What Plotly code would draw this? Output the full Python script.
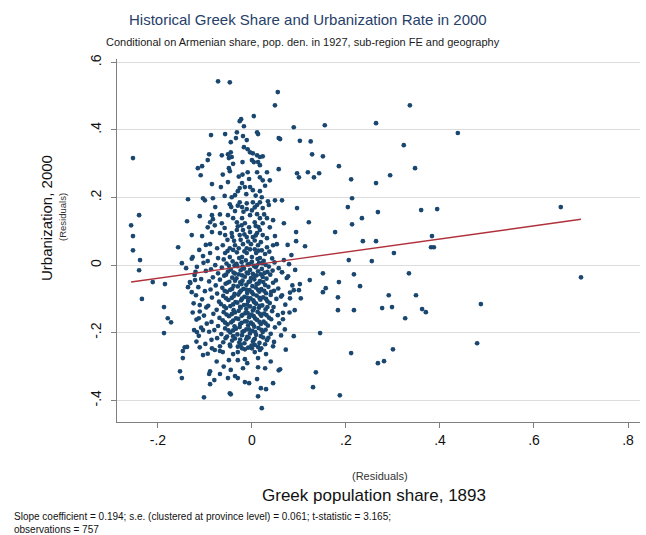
import plotly.graph_objects as go

# ---------------- data (residuals) ----------------
left_points = [
    (-0.253, 0.317), (-0.240, 0.148), (-0.257, 0.118), (-0.253, 0.086), (-0.253, 0.044),
    (-0.238, 0.015), (-0.240, -0.015), (-0.211, -0.050), (-0.185, -0.056), (-0.234, -0.100),
    (-0.187, -0.124), (-0.179, -0.157), (-0.187, -0.201), (-0.172, -0.169),
    (-0.149, 0.006), (-0.140, -0.009), (-0.136, -0.065), (-0.132, -0.050), (-0.121, -0.044),
    (-0.111, -0.118), (-0.113, -0.157), (-0.104, -0.192), (-0.117, -0.198), (-0.123, -0.192),
    (-0.143, -0.243), (-0.147, -0.254), (-0.147, -0.275), (-0.153, -0.314), (-0.149, -0.334),
    (-0.138, -0.242), (-0.157, 0.053), (-0.138, 0.130), (-0.136, 0.195),
    (-0.098, 0.060), (-0.112, 0.045), (-0.120, -0.020), (-0.128, -0.080), (-0.126, -0.140),
    (-0.118, -0.226), (-0.094, -0.262), (-0.075, -0.285), (-0.060, -0.300), (-0.080, -0.340),
]

upper_points = [
    (-0.072, 0.544), (-0.047, 0.541), (0.055, 0.512), (0.049, 0.473), (-0.023, 0.432),
    (-0.026, 0.426), (-0.017, 0.411), (0.004, 0.441),
    (-0.087, 0.385), (-0.057, 0.388), (-0.032, 0.393), (-0.034, 0.376), (-0.019, 0.382),
    (-0.011, 0.370), (-0.045, 0.364), (0.011, 0.393), (0.013, 0.388), (0.057, 0.376),
    (-0.017, 0.349), (-0.009, 0.343), (-0.004, 0.334), (0.002, 0.331), (0.011, 0.325),
    (0.017, 0.320), (0.023, 0.322), (0.000, 0.311), (0.004, 0.305), (0.013, 0.305), (0.017, 0.296),
    (-0.091, 0.328), (-0.094, 0.311), (-0.064, 0.325), (-0.051, 0.328), (-0.045, 0.334),
    (-0.043, 0.320), (-0.049, 0.317), (-0.106, 0.293), (-0.115, 0.287), (-0.049, 0.287), (0.057, 0.284),
    (-0.109, 0.266), (-0.047, 0.278), (-0.009, 0.275), (0.011, 0.275), (0.017, 0.260),
    (0.032, 0.275), (0.023, 0.251), (0.038, 0.251),
    (-0.085, 0.240), (-0.066, 0.231), (-0.051, 0.246), (-0.021, 0.243), (-0.026, 0.228),
    (-0.015, 0.231), (-0.030, 0.219), (-0.004, 0.231), (0.002, 0.222), (0.017, 0.219),
    (-0.036, 0.207), (-0.043, 0.201), (0.021, 0.201),
    (-0.104, 0.198), (-0.100, 0.192), (-0.083, 0.198), (-0.047, 0.180), (-0.026, 0.186),
    (-0.021, 0.172), (-0.011, 0.183), (-0.011, 0.166), (0.002, 0.186), (0.011, 0.178),
    (0.017, 0.186), (0.034, 0.189), (0.049, 0.192), (0.036, 0.178), (0.023, 0.169),
    (-0.111, 0.145), (-0.085, 0.148), (-0.083, 0.136), (-0.089, 0.127), (-0.079, 0.118),
    (-0.094, 0.112), (-0.064, 0.124), (-0.051, 0.148), (-0.040, 0.139), (-0.032, 0.127),
    (-0.021, 0.139), (-0.015, 0.124), (-0.004, 0.148), (0.011, 0.151), (0.017, 0.139),
    (0.006, 0.127), (0.023, 0.124), (0.032, 0.139), (0.045, 0.133), (0.038, 0.112),
    (-0.128, 0.089), (-0.106, 0.086), (-0.085, 0.098), (-0.068, 0.095), (-0.057, 0.089),
    (-0.043, 0.095), (-0.032, 0.104), (-0.026, 0.089), (-0.019, 0.104), (-0.011, 0.083),
    (-0.004, 0.098), (0.002, 0.083), (0.011, 0.095), (0.017, 0.104), (0.023, 0.089),
    (0.032, 0.080), (0.049, 0.086),
    (-0.089, 0.062), (-0.074, 0.050), (-0.062, 0.059), (-0.047, 0.050), (-0.036, 0.059),
    (-0.028, 0.050), (-0.019, 0.062), (-0.011, 0.050), (-0.002, 0.062), (0.006, 0.047),
    (0.013, 0.059), (0.021, 0.044), (0.032, 0.053), (0.045, 0.059), (0.053, 0.062),
    (-0.126, 0.024), (-0.104, 0.027), (-0.089, 0.036), (-0.072, 0.021), (-0.057, 0.036),
    (-0.047, 0.024), (-0.032, 0.038), (-0.021, 0.024), (-0.011, 0.036), (0.000, 0.024),
    (0.009, 0.036), (0.017, 0.021), (0.028, 0.033),
    (-0.038, 0.072), (-0.024, 0.075), (-0.008, 0.070), (0.006, 0.073), (0.019, 0.068),
    (-0.052, 0.075), (-0.030, 0.115), (-0.006, 0.112), (0.008, 0.116), (-0.018, 0.158),
    (0.000, 0.162), (-0.036, 0.160), (-0.028, 0.262), (-0.006, 0.255), (-0.040, 0.300), (-0.020, 0.305),
    (-0.042, 0.084), (-0.016, 0.091), (0.008, 0.088), (-0.058, 0.110), (-0.022, 0.118),
    (0.014, 0.113), (-0.044, 0.172), (-0.030, 0.176), (0.006, 0.171), (-0.058, 0.205),
    (-0.012, 0.210), (0.008, 0.206), (-0.020, 0.268), (0.028, 0.235), (-0.062, 0.268),
    (-0.078, 0.172), (-0.068, 0.150), (0.026, 0.150),
    (-0.052, 0.042), (-0.040, 0.045), (-0.016, 0.041), (-0.004, 0.047), (0.014, 0.043), (0.037, 0.040),
]

core_points = [
    (-0.128, 0.019), (-0.094, 0.012), (-0.060, 0.017), (-0.041, 0.011), (-0.027, 0.021), (-0.013, 0.014),
    (0.000, 0.010), (0.012, 0.018), (0.025, 0.013), (0.043, 0.020), (0.068, 0.015),
    (-0.103, 0.007), (-0.078, 0.000), (-0.054, 0.005), (-0.037, -0.001), (-0.022, 0.009), (-0.009, 0.002),
    (0.004, -0.002), (0.015, 0.006), (0.029, 0.001), (0.048, 0.008), (0.079, 0.003),
    (-0.117, -0.005), (-0.087, -0.012), (-0.064, -0.007), (-0.045, -0.013), (-0.031, -0.003), (-0.017, -0.010),
    (-0.004, -0.014), (0.008, -0.006), (0.021, -0.011), (0.036, -0.004), (0.057, -0.009),
    (-0.098, -0.017), (-0.072, -0.024), (-0.051, -0.019), (-0.036, -0.025), (-0.024, -0.015), (-0.011, -0.022),
    (0.002, -0.026), (0.013, -0.018), (0.027, -0.023), (0.044, -0.016), (0.064, -0.021), (0.092, -0.014),
    (-0.122, -0.029), (-0.083, -0.036), (-0.059, -0.031), (-0.042, -0.037), (-0.028, -0.027), (-0.015, -0.034),
    (-0.002, -0.038), (0.010, -0.030), (0.023, -0.035), (0.039, -0.028),
    (-0.108, -0.041), (-0.091, -0.048), (-0.068, -0.043), (-0.048, -0.049), (-0.033, -0.039), (-0.020, -0.046),
    (-0.007, -0.050), (0.005, -0.042), (0.017, -0.047), (0.031, -0.040), (0.051, -0.045), (0.074, -0.038),
    (-0.131, -0.053), (-0.077, -0.060), (-0.056, -0.055), (-0.039, -0.061), (-0.025, -0.051), (-0.012, -0.058),
    (0.001, -0.062), (0.014, -0.054), (0.028, -0.059), (0.045, -0.052),
    (-0.114, -0.065), (-0.088, -0.072), (-0.063, -0.067), (-0.046, -0.073), (-0.030, -0.063), (-0.018, -0.070),
    (-0.005, -0.074), (0.008, -0.066), (0.020, -0.071), (0.035, -0.064), (0.056, -0.069),
    (-0.100, -0.077), (-0.074, -0.084), (-0.053, -0.079), (-0.037, -0.085), (-0.023, -0.075), (-0.010, -0.082),
    (0.003, -0.086), (0.016, -0.078), (0.030, -0.083), (0.047, -0.076), (0.081, -0.081),
    (-0.119, -0.089), (-0.085, -0.096), (-0.061, -0.091), (-0.043, -0.097), (-0.029, -0.087), (-0.016, -0.094),
    (-0.003, -0.098), (0.010, -0.090), (0.024, -0.095), (0.040, -0.088), (0.062, -0.093),
    (-0.106, -0.101), (-0.070, -0.108), (-0.050, -0.103), (-0.035, -0.109), (-0.021, -0.099), (-0.008, -0.106),
    (0.005, -0.110), (0.018, -0.102), (0.033, -0.107), (0.052, -0.100),
    (-0.124, -0.113), (-0.093, -0.120), (-0.066, -0.115), (-0.046, -0.121), (-0.031, -0.111), (-0.017, -0.118),
    (-0.004, -0.122), (0.009, -0.114), (0.022, -0.119), (0.038, -0.112), (0.071, -0.117),
    (-0.097, -0.125), (-0.075, -0.132), (-0.055, -0.127), (-0.039, -0.133), (-0.025, -0.123), (-0.012, -0.130),
    (0.002, -0.134), (0.015, -0.126), (0.029, -0.131), (0.046, -0.124),
    (-0.111, -0.137), (-0.082, -0.144), (-0.060, -0.139), (-0.043, -0.145), (-0.028, -0.135), (-0.014, -0.142),
    (-0.001, -0.146), (0.012, -0.138), (0.026, -0.143), (0.043, -0.136), (0.066, -0.141),
    (-0.102, -0.149), (-0.069, -0.156), (-0.049, -0.151), (-0.034, -0.157), (-0.020, -0.147), (-0.006, -0.154),
    (0.007, -0.158), (0.020, -0.150), (0.036, -0.155), (0.055, -0.148),
    (-0.118, -0.161), (-0.086, -0.168), (-0.062, -0.163), (-0.044, -0.169), (-0.029, -0.159), (-0.015, -0.166),
    (-0.002, -0.170), (0.011, -0.162), (0.025, -0.167), (0.041, -0.160),
    (-0.096, -0.173), (-0.072, -0.180), (-0.052, -0.175), (-0.037, -0.181), (-0.022, -0.171), (-0.008, -0.178),
    (0.005, -0.182), (0.019, -0.174), (0.034, -0.179), (0.058, -0.172),
    (-0.108, -0.185), (-0.080, -0.192), (-0.057, -0.187), (-0.040, -0.193), (-0.026, -0.183), (-0.012, -0.190),
    (0.001, -0.194), (0.014, -0.186), (0.029, -0.191), (0.049, -0.184),
    (-0.091, -0.197), (-0.065, -0.204), (-0.046, -0.199), (-0.031, -0.205), (-0.017, -0.195), (-0.004, -0.202),
    (0.009, -0.206), (0.023, -0.198), (0.040, -0.203),
    (-0.113, -0.209), (-0.074, -0.216), (-0.053, -0.211), (-0.036, -0.217), (-0.021, -0.207), (-0.007, -0.214),
    (0.006, -0.218), (0.019, -0.210), (0.035, -0.215), (0.062, -0.208),
    (-0.086, -0.221), (-0.061, -0.228), (-0.042, -0.223), (-0.027, -0.229), (-0.012, -0.219), (0.002, -0.226),
    (0.016, -0.230), (0.032, -0.222),
    (-0.099, -0.233), (-0.068, -0.240), (-0.047, -0.235), (-0.030, -0.241), (-0.016, -0.231), (-0.001, -0.238),
    (0.013, -0.242), (0.028, -0.234), (0.047, -0.227),
]

core_extra_points = [
    (-0.049, -0.002), (-0.033, 0.004), (-0.020, -0.004), (-0.006, 0.003), (0.010, -0.001), (0.022, 0.006),
    (-0.055, -0.028), (-0.039, -0.022), (-0.021, -0.030), (-0.008, -0.024), (0.006, -0.032), (0.019, -0.027),
    (0.033, -0.020),
    (-0.052, -0.052), (-0.036, -0.046), (-0.022, -0.056), (-0.004, -0.048), (0.010, -0.056), (0.024, -0.050),
    (-0.058, -0.076), (-0.042, -0.070), (-0.026, -0.080), (-0.012, -0.072), (0.000, -0.080), (0.013, -0.073),
    (0.026, -0.076), (0.041, -0.079),
    (-0.055, -0.098), (-0.039, -0.092), (-0.023, -0.104), (-0.010, -0.096), (0.003, -0.104), (0.016, -0.097),
    (0.030, -0.100),
    (-0.059, -0.122), (-0.040, -0.116), (-0.024, -0.126), (-0.010, -0.117), (0.005, -0.127), (0.017, -0.120),
    (0.033, -0.124),
    (-0.054, -0.146), (-0.036, -0.140), (-0.022, -0.150), (-0.009, -0.142), (0.004, -0.151), (0.017, -0.144),
    (0.031, -0.148),
    (-0.057, -0.170), (-0.040, -0.164), (-0.025, -0.174), (-0.011, -0.166), (0.002, -0.175), (0.016, -0.168),
    (0.029, -0.172),
    (-0.050, -0.193), (-0.034, -0.188), (-0.020, -0.197), (-0.006, -0.190), (0.007, -0.198), (0.020, -0.191),
    (-0.056, -0.216), (-0.040, -0.210), (-0.025, -0.220), (-0.010, -0.212), (0.004, -0.221), (0.024, -0.214),
    (-0.046, -0.240), (-0.024, -0.236), (-0.008, -0.244), (0.006, -0.236), (0.020, -0.246),
    (-0.045, -0.310), (-0.010, -0.290), (0.040, -0.285), (0.045, -0.240), (0.070, -0.190),
    (0.072, -0.250), (0.080, -0.140), (0.086, -0.060), (0.084, 0.030), (0.076, 0.060),
]

lower_points = [
    (-0.104, -0.266), (-0.111, -0.243), (-0.085, -0.246), (-0.079, -0.251), (-0.068, -0.254),
    (-0.062, -0.257), (-0.040, -0.263), (-0.030, -0.257), (-0.021, -0.246), (-0.015, -0.249),
    (0.000, -0.246), (0.006, -0.257), (0.017, -0.251), (0.030, -0.263), (-0.049, -0.281),
    (-0.030, -0.281), (-0.015, -0.278), (0.013, -0.275), (-0.019, -0.305), (0.013, -0.302),
    (0.028, -0.305), (0.057, -0.311), (-0.089, -0.314), (-0.091, -0.322), (-0.068, -0.322),
    (-0.036, -0.328), (-0.030, -0.334), (-0.051, -0.334), (-0.015, -0.346), (-0.006, -0.349),
    (0.011, -0.337), (-0.089, -0.352), (0.045, -0.349), (0.019, -0.364), (0.030, -0.367),
    (-0.102, -0.391), (-0.045, -0.382), (0.013, -0.388), (0.021, -0.423), (-0.047, -0.379),
]

right_points = [
    (0.089, 0.408), (0.155, 0.414), (0.264, 0.420), (0.336, 0.473), (0.438, 0.391),
    (0.060, 0.373), (0.102, 0.368), (0.125, 0.366), (0.128, 0.328), (0.151, 0.322),
    (0.323, 0.355), (0.185, 0.293), (0.096, 0.272), (0.100, 0.260), (0.119, 0.275),
    (0.132, 0.260), (0.143, 0.272), (0.294, 0.266), (0.347, 0.287), (0.211, 0.254),
    (0.264, 0.243), (0.213, 0.198), (0.064, 0.192), (0.204, 0.172), (0.096, 0.169),
    (0.268, 0.157), (0.360, 0.163), (0.394, 0.166), (0.657, 0.172), (0.068, 0.124),
    (0.121, 0.127), (0.234, 0.139), (0.213, 0.121), (0.094, 0.098), (0.177, 0.098),
    (0.094, 0.071), (0.113, 0.056), (0.236, 0.071), (0.264, 0.071), (0.383, 0.086),
    (0.381, 0.053), (0.387, 0.053), (0.302, 0.036),
    (0.206, 0.015), (0.255, 0.012), (0.064, -0.021), (0.077, -0.033), (0.151, -0.024),
    (0.217, -0.027), (0.334, -0.024), (0.700, -0.036), (0.123, -0.044), (0.185, -0.050),
    (0.230, -0.062), (0.102, -0.056), (0.157, -0.068), (0.089, -0.074), (0.100, -0.074),
    (0.151, -0.080), (0.064, -0.089), (0.081, -0.098), (0.104, -0.098), (0.183, -0.095),
    (0.291, -0.089), (0.349, -0.089), (0.487, -0.115), (0.091, -0.133), (0.183, -0.133),
    (0.217, -0.133), (0.277, -0.127), (0.298, -0.124), (0.362, -0.130), (0.370, -0.139),
    (0.066, -0.160), (0.326, -0.157), (0.089, -0.210), (0.145, -0.201), (0.479, -0.231),
    (0.211, -0.260), (0.268, -0.290), (0.281, -0.284), (0.300, -0.249), (0.136, -0.317),
    (0.130, -0.361), (0.187, -0.385), (0.060, -0.308),
]

fit_slope = 0.194
fit_intercept = 0.0

x_tick_values = [-0.2, 0, 0.2, 0.4, 0.6, 0.8]
x_tick_labels = ["-.2", "0", ".2", ".4", ".6", ".8"]
y_tick_values = [-0.4, -0.2, 0, 0.2, 0.4, 0.6]
y_tick_labels = ["-.4", "-.2", "0", ".2", ".4", ".6"]

title_text = "Historical Greek Share and Urbanization Rate in 2000"
subtitle_text = "Conditional on Armenian share, pop. den. in 1927, sub-region FE and geography"
y_title = "Urbanization, 2000"
x_title = "Greek population share, 1893"
resid_label = "(Residuals)"
note_text = ("Slope coefficient = 0.194; s.e. (clustered at province level) = 0.061; t-statistic = 3.165;"
             "<br>observations = 757")

# ---------------- figure ----------------
all_points = left_points + upper_points + core_points + core_extra_points + lower_points + right_points
xs = [p[0] for p in all_points]
ys = [p[1] for p in all_points]

x_lo, x_hi = min(xs), max(xs)
fit_x = [x_lo, x_hi]
fit_y = [fit_intercept + fit_slope * v for v in fit_x]

W, H = 646, 535
L, R, T, B = 117, 6, 59, 113
PW, PH = W - L - R, H - T - B

FONT = "Liberation Sans, Arial, sans-serif"
NAVY = "#1a476f"

fig = go.Figure()
fig.add_trace(go.Scatter(x=xs, y=ys, mode="markers",
                         marker=dict(size=4.7, color=NAVY, line=dict(width=0)),
                         hoverinfo="skip", showlegend=False))
fig.add_trace(go.Scatter(x=fit_x, y=fit_y, mode="lines",
                         line=dict(color="#b0313b", width=1.4),
                         hoverinfo="skip", showlegend=False))


def px_x(p):
    return (p - L) / PW


def px_y(p):
    return (H - B - p) / PH


annots = [
    dict(text=title_text, x=px_x(308), y=px_y(19), font=dict(size=15, color="#27406a")),
    dict(text=subtitle_text, x=px_x(303), y=px_y(42), font=dict(size=11, color="#1a1a1a")),
    dict(text=y_title, x=px_x(46), y=px_y(218), textangle=-90, font=dict(size=15, color="#111")),
    dict(text=resid_label, x=px_x(63), y=px_y(217), textangle=-90, font=dict(size=9.5, color="#333")),
    dict(text=resid_label, x=px_x(380), y=px_y(476), font=dict(size=11, color="#333")),
    dict(text=x_title, x=px_x(374), y=px_y(495), font=dict(size=17, color="#111")),
]
for a in annots:
    a.update(xref="paper", yref="paper", showarrow=False, xanchor="center", yanchor="middle")
    fig.add_annotation(**a)

fig.add_annotation(text=note_text, xref="paper", yref="paper", x=px_x(12), y=px_y(509),
                   xanchor="left", yanchor="top", align="left", showarrow=False,
                   font=dict(size=10, color="#111"))

fig.update_layout(
    width=W, height=H,
    margin=dict(l=L, r=R, t=T, b=B, pad=0),
    paper_bgcolor="white", plot_bgcolor="white",
    font=dict(family=FONT, color="#111"),
    xaxis=dict(range=[-0.287, 0.8255], tickvals=x_tick_values, ticktext=x_tick_labels,
               showgrid=False, zeroline=False, showline=True, linecolor="#7f7f7f", linewidth=1,
               ticks="outside", ticklen=5, tickcolor="#7f7f7f", tickfont=dict(size=14, color="#111")),
    yaxis=dict(range=[-0.464, 0.61], tickvals=y_tick_values, ticktext=y_tick_labels,
               showgrid=True, gridcolor="#dcdcdc", gridwidth=1, zeroline=False,
               showline=True, linecolor="#7f7f7f", linewidth=1,
               ticks="outside", ticklen=5, tickcolor="#7f7f7f", tickangle=-90,
               ticklabelstandoff=4, tickfont=dict(size=14, color="#111")),
)

fig.write_html("out.html", config={"displayModeBar": False},
               post_script="document.body.style.margin='0px';document.body.style.overflow='hidden';")
